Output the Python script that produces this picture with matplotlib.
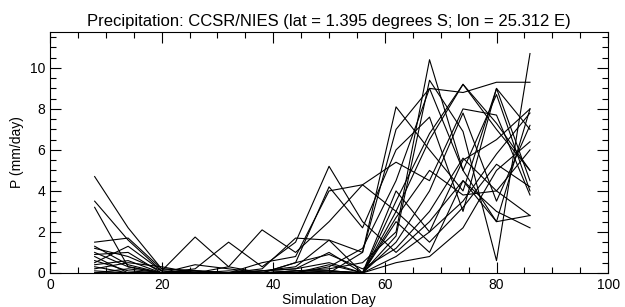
import matplotlib
matplotlib.use('Agg')
import matplotlib.pyplot as plt
from matplotlib.ticker import MultipleLocator

plt.rcParams['font.family'] = ['Liberation Sans', 'DejaVu Sans']

# simulation days (every 6 days)
days = [8, 14, 20, 26, 32, 38, 44, 50, 56, 62, 68, 74, 80, 86]

# ensemble members, precipitation in mm/day
m01 = [4.7, 2.2, 0.2, 0.1, 0.0, 0.1, 0.2, 0.5, 0.0, 3.0, 6.5, 9.2, 7.0, 5.0]
m02 = [3.5, 1.6, 0.1, 0.0, 0.1, 0.0, 0.0, 0.3, 1.2, 4.5, 9.0, 8.8, 9.3, 9.3]
m03 = [3.2, 0.3, 0.0, 0.0, 0.0, 0.0, 0.1, 0.2, 0.5, 2.0, 10.4, 5.0, 2.5, 8.0]
m04 = [1.5, 1.7, 0.2, 0.1, 0.0, 0.1, 0.3, 1.6, 1.0, 8.1, 6.0, 4.0, 9.0, 4.5]
m05 = [1.2, 0.8, 0.1, 1.75, 0.3, 0.0, 0.1, 0.1, 0.0, 1.5, 4.0, 7.8, 3.5, 7.2]
m06 = [1.0, 0.3, 0.0, 0.2, 1.5, 0.3, 1.5, 5.2, 2.5, 1.0, 2.5, 4.5, 3.0, 2.2]
m07 = [0.8, 0.0, 0.0, 0.0, 0.3, 2.1, 1.0, 2.5, 4.3, 3.0, 1.5, 3.2, 5.3, 4.2]
m08 = [0.5, 1.3, 0.1, 0.0, 0.0, 0.5, 0.8, 4.0, 4.3, 5.4, 4.5, 8.0, 7.7, 3.8]
m09 = [0.3, 0.0, 0.0, 0.1, 0.0, 0.0, 0.5, 4.2, 2.2, 6.0, 7.6, 3.0, 9.0, 7.0]
m10 = [0.2, 0.5, 0.3, 0.0, 0.0, 0.2, 1.7, 1.6, 0.0, 2.7, 5.0, 3.8, 4.0, 2.8]
m11 = [0.1, 0.0, 0.0, 0.0, 0.0, 0.0, 0.0, 0.4, 0.0, 1.8, 9.4, 6.9, 0.6, 10.7]
m12 = [0.9, 1.0, 0.0, 0.0, 0.0, 0.1, 0.2, 1.0, 0.0, 4.0, 2.0, 5.5, 6.5, 8.0]
m13 = [0.0, 0.2, 0.0, 0.0, 0.0, 0.0, 0.0, 0.0, 0.0, 0.8, 2.0, 3.5, 5.8, 7.8]
m14 = [0.6, 0.1, 0.0, 0.4, 0.2, 0.0, 0.0, 0.1, 0.0, 2.5, 1.0, 4.5, 2.5, 2.8]
m15 = [0.0, 0.0, 0.0, 0.0, 0.0, 0.0, 0.5, 0.9, 0.2, 1.2, 3.0, 5.6, 4.0, 6.0]
m16 = [0.4, 0.6, 0.0, 0.0, 0.0, 0.0, 0.0, 0.0, 0.0, 3.5, 6.8, 9.2, 7.3, 5.0]
m17 = [0.0, 0.0, 0.0, 0.0, 0.0, 0.0, 0.0, 0.0, 1.0, 7.0, 9.0, 5.0, 8.7, 4.0]
m18 = [1.3, 0.4, 0.0, 0.1, 0.0, 0.0, 0.1, 0.1, 0.0, 0.5, 0.8, 2.2, 5.0, 6.4]

members = [m01, m02, m03, m04, m05, m06, m07, m08, m09,
           m10, m11, m12, m13, m14, m15, m16, m17, m18]

fig = plt.figure(figsize=(6.25, 3.07), dpi=100)
ax = fig.add_axes([0.08, 0.111, 0.893, 0.786])

for m in members:
    ax.plot(days, m, color='black', linewidth=0.8)

ax.set_xlim(0, 100)
ax.set_ylim(0, 11.77)
ax.xaxis.set_major_locator(MultipleLocator(20))
ax.xaxis.set_minor_locator(MultipleLocator(5))
ax.yaxis.set_major_locator(MultipleLocator(2))
ax.yaxis.set_minor_locator(MultipleLocator(0.5))
ax.tick_params(which='both', direction='in', top=True, right=True,
               labelsize=10, width=0.8)
ax.tick_params(which='major', length=8)
ax.tick_params(which='minor', length=4)
for s in ax.spines.values():
    s.set_linewidth(0.8)

ax.set_title('Precipitation: CCSR/NIES (lat = 1.395 degrees S; lon = 25.312 E)',
             fontsize=12, pad=4)
ax.set_xlabel('Simulation Day', fontsize=10, labelpad=1)
ax.set_ylabel('P (mm/day)', fontsize=10, labelpad=4)

fig.savefig('out.png', dpi=100)
